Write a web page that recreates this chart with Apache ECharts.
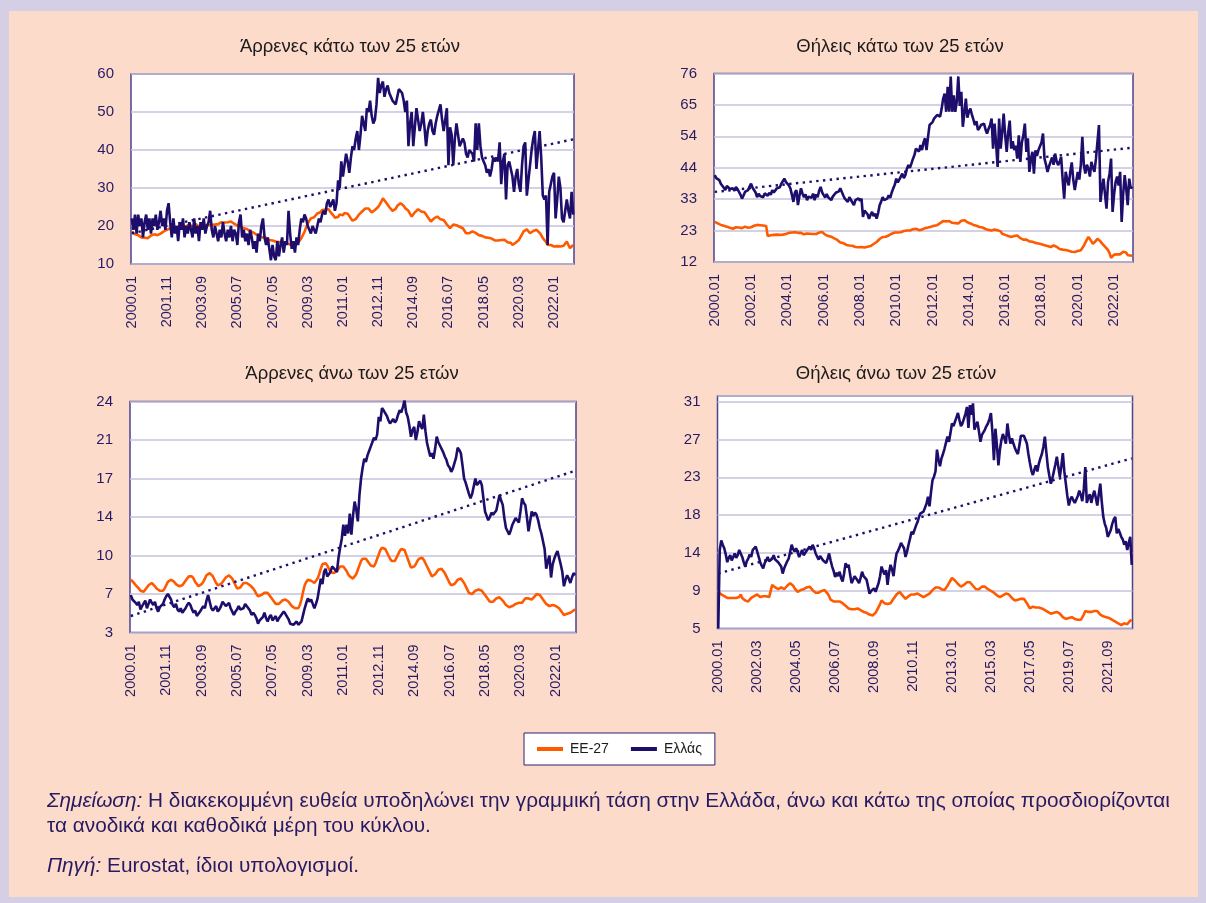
<!DOCTYPE html>
<html><head><meta charset="utf-8">
<script src="https://cdn.jsdelivr.net/npm/echarts@6/dist/echarts.min.js"></script>
<style>
html,body{margin:0;padding:0;background:#D4CFE5;width:1206px;height:903px;overflow:hidden}
#bg{position:absolute;left:9px;top:11px;width:1189px;height:886px;background:#FDDBCB}
#chart{position:absolute;left:0;top:0;width:1206px;height:903px}
</style></head>
<body><div id="bg"></div><div id="chart"></div>
<script>
// ---------- categories ----------
const months = [];
for (let i = 0; i < 277; i++) {
  const y = 2000 + Math.floor(i / 12), m = i % 12 + 1;
  months.push(y + '.' + (m < 10 ? '0' + m : '' + m));
}

// ---------- series values (monthly, 2000.01 - 2023.01) ----------
const grMaleU25 = [
22,19,23,18,23,20,22,17,21,23,19,22,
18,22,20,23,19,21,24,20,22,19,24,26,
21,17,22,18,20,16,21,19,22,17,20,18,
21,19,17,22,18,20,16,21,19,22,18,20,
21,24,19,17,20,18,16,19,17,21,18,16,
19,17,20,16,19,18,15,21,23,17,19,16,
18,15,19,17,14,16,13,18,16,20,22,17,
15,17,14,11,15,12,11,16,12,15,17,13,
16,15,24,18,14,16,13,17,15,19,22,21,
23,22,20,19,18,20,19,18,20,22,21,23,
24,23,26,27,25,26,27,24,26,32,30,37,
33,36,39,37,34,38,41,40,43,45,40,44,
49,47,45,51,50,53,49,47,48,52,59,55,
57,58,54,56,57,55,54,53,53,52,54,56,
56,55,53,50,53,41,47,50,41,46,51,48,
45,47,50,46,41,45,47,48,45,44,47,49,
49,52,48,45,48,51,36,46,44,36,43,47,
44,41,42,43,42,39,38,40,40,39,37,47,
40,47,41,38,37,36,34,35,33,35,38,37,
38,37,42,31,37,39,27,36,37,37,33,29,
33,35,31,29,36,41,42,28,32,36,40,43,
45,35,40,45,38,28,27,28,15,29,31,33,
34,22,27,33,30,22,21,24,27,24,22,29,
23];
const euMaleU25 = [
18.5,18.2,17.8,17.5,17.6,17.2,17.0,17.3,16.9,17.0,16.8,17.2,
17.5,17.3,17.8,18.0,17.6,17.9,18.0,18.4,18.6,18.8,19.0,19.2,
19.4,19.2,19.6,19.8,19.5,19.9,20.2,19.8,20.0,20.3,19.9,20.1,
20.4,20.0,19.8,20.2,20.5,20.1,19.8,20.0,20.3,19.9,20.2,20.5,
20.2,20.6,20.3,20.0,20.4,20.7,20.5,20.8,21.0,20.6,20.9,21.2,
21.0,20.8,21.2,21.0,20.6,20.3,20.1,20.4,19.9,20.0,19.4,19.6,
19.2,19.0,18.6,18.8,18.3,18.0,17.7,17.9,17.2,17.4,17.0,16.8,
16.9,16.5,16.3,16.6,16.2,16.0,15.9,15.6,15.8,15.3,15.5,15.2,
15.4,15.0,15.3,15.1,14.9,15.2,15.0,15.3,15.6,16.0,16.8,17.6,
18.5,19.6,20.6,21.4,22.0,22.5,22.3,22.8,23.3,23.0,23.6,24.2,
24.0,24.3,24.7,24.4,23.8,23.3,22.8,22.2,22.0,22.4,23.0,22.6,
22.8,23.4,23.8,23.2,22.6,22.0,21.4,21.2,21.8,22.4,23.0,23.5,
23.8,24.3,24.6,25.0,24.6,24.2,23.6,23.5,24.2,24.6,25.0,25.6,
26.4,27.3,26.8,26.2,25.6,25.0,24.7,24.0,23.8,24.5,25.3,25.6,
26.0,25.6,25.3,24.7,25.2,24.0,23.2,22.5,23.0,23.6,24.0,24.4,
24.2,23.8,24.3,23.6,23.0,22.4,22.0,21.2,21.6,22.0,22.3,22.5,
22.0,21.8,21.6,21.6,21.0,20.4,20.0,19.4,19.8,20.4,20.7,20.2,
19.9,19.8,20.0,19.4,19.0,18.1,18.3,18.1,18.4,18.6,18.5,18.2,
18.0,17.6,17.2,17.4,17.1,17.0,16.8,16.9,16.8,16.7,16.5,16.2,
15.9,16.2,16.0,16.3,16.1,16.4,15.9,15.7,16.0,15.6,15.0,15.3,
15.6,15.9,16.3,16.8,17.8,18.6,19.0,19.1,18.7,18.1,18.4,18.7,
18.8,19.0,18.6,18.2,17.6,16.8,16.5,15.8,15.0,15.4,15.0,14.8,
14.6,14.5,14.7,14.6,14.6,14.5,14.8,15.2,15.9,15.0,14.2,14.6,
15.0];
const grFemU25 = [
41.5,40.5,40.8,39.8,38.6,38.0,37.2,36.4,37.8,37.5,36.8,37.4,
37.0,36.2,37.5,36.8,35.8,34.9,33.5,34.6,35.8,35.5,36.4,37.6,
38.6,37.2,37.5,35.6,34.0,35.2,34.4,35.0,34.0,35.3,34.8,34.5,
35.5,34.8,36.4,35.6,36.2,37.0,36.6,37.4,38.6,39.4,40.3,39.2,
38.6,38.0,37.0,34.8,32.4,35.6,36.4,31.3,34.6,37.0,35.2,34.0,
35.0,33.0,34.2,34.7,33.8,35.2,33.0,35.0,34.0,36.2,37.5,35.6,
34.7,33.9,35.1,34.0,34.6,33.0,34.2,34.0,35.5,35.2,36.0,37.0,
35.8,34.6,33.5,33.0,32.4,34.0,33.5,32.2,31.3,33.0,32.4,33.6,
32.8,33.5,27.3,29.5,30.1,28.2,26.7,28.0,29.0,27.6,28.4,26.7,
28.6,31.3,32.5,34.0,33.0,32.4,33.5,34.7,33.8,35.6,37.0,38.2,
40.3,39.0,39.2,41.0,42.0,40.5,41.5,43.6,44.9,44.0,45.4,47.0,
48.3,50.5,51.0,49.5,51.7,50.0,52.6,54.0,50.0,54.5,58.5,58.0,
59.5,60.7,60.2,61.9,62.5,61.4,64.0,67.5,69.2,63.0,71.5,63.0,
75.0,63.0,68.6,63.0,66.5,75.0,65.0,69.8,57.9,62.5,67.5,61.0,
63.0,64.1,62.0,60.3,58.5,59.8,56.8,57.5,58.5,58.0,59.0,57.0,
55.6,57.2,58.4,60.7,50.5,59.0,52.0,44.3,60.7,50.5,56.0,62.4,
55.0,49.4,56.0,60.0,50.5,53.0,50.0,51.5,47.1,55.0,46.0,52.5,
55.0,59.0,49.4,54.0,42.6,47.0,49.4,42.0,49.9,48.0,50.0,50.5,
52.6,55.6,47.1,45.0,42.6,44.5,46.0,47.5,45.0,48.8,46.2,44.9,
46.0,47.7,40.0,33.5,42.6,40.0,38.0,42.5,45.8,40.0,36.4,39.5,
42.6,40.0,44.9,54.5,44.9,42.0,45.0,43.7,41.0,46.0,44.0,42.6,
47.0,52.8,58.5,32.4,37.0,40.3,35.0,30.1,39.2,42.0,47.1,29.0,
35.0,39.2,41.0,38.0,42.6,25.6,35.0,41.5,37.0,31.3,40.3,37.0,
37.6];
const euFemU25 = [
25.6,25.3,25.1,24.8,24.6,24.5,24.3,24.2,24.0,23.8,23.6,23.5,
23.3,23.6,23.8,23.5,23.7,23.9,23.5,23.8,24.0,23.8,23.6,23.9,
23.8,24.0,24.3,24.5,24.6,24.4,24.5,24.3,24.4,24.2,24.2,20.8,
20.9,21.1,21.0,21.2,21.0,21.3,21.4,21.2,21.5,21.3,21.6,21.5,
21.7,21.9,21.8,22.0,22.3,22.1,22.2,21.9,21.7,21.9,21.6,21.4,
21.5,21.7,21.4,21.6,21.3,21.5,21.6,21.5,21.9,22.0,22.1,22.2,
21.8,21.3,21.0,20.8,20.5,20.6,20.3,20.0,19.9,19.5,19.0,18.6,
18.2,18.4,18.0,17.8,17.9,17.6,17.4,17.5,17.2,17.1,17.3,17.0,
16.9,17.1,16.8,16.9,17.0,17.2,17.1,17.4,17.8,18.1,18.5,18.8,
19.3,19.8,20.2,20.5,20.7,20.6,20.9,21.0,21.3,21.6,21.9,22.0,
22.2,22.0,22.3,22.1,22.2,22.5,22.4,22.7,22.5,22.7,22.9,23.1,
23.0,23.3,23.0,22.8,22.7,23.0,23.3,23.5,23.4,23.7,23.8,24.0,
24.1,24.3,24.2,24.5,24.8,25.2,25.6,25.9,26.2,25.8,25.6,25.9,
25.6,25.3,25.5,25.2,25.4,25.1,25.6,26.0,26.5,26.2,25.8,25.5,
25.3,25.1,24.8,24.6,24.5,24.3,24.0,23.9,23.6,23.7,23.3,23.2,
23.1,22.9,22.8,22.7,22.9,23.0,23.1,22.8,23.0,22.4,21.6,21.0,
21.2,21.0,20.8,20.7,20.5,20.6,20.8,21.0,21.0,20.6,20.1,19.8,
19.6,19.4,19.6,19.3,19.0,18.8,18.9,18.6,18.5,18.4,18.3,18.2,
18.0,17.9,17.7,17.6,17.4,17.3,17.1,17.3,17.6,17.7,17.2,16.8,
16.4,16.0,16.2,15.9,16.1,16.0,15.8,15.7,15.5,15.6,15.4,15.5,
15.7,15.9,16.0,16.6,17.5,18.6,19.6,20.5,19.8,19.0,18.2,18.5,
19.2,19.9,19.6,19.0,18.3,17.7,17.2,16.8,16.0,15.0,13.4,13.9,
14.5,14.9,14.6,14.5,14.6,14.9,15.5,16.0,15.2,14.3,14.0,14.2,
14.1];
const grMaleO25 = [
6.4,6.0,6.1,5.7,5.5,5.8,5.1,5.4,5.5,5.9,5.2,5.6,
6.0,5.7,5.5,5.8,5.2,4.9,5.3,5.2,5.6,6.0,6.3,6.5,
6.4,6.0,5.5,5.3,5.6,5.1,4.9,5.2,4.8,5.0,5.2,5.5,
5.7,5.5,5.1,4.8,5.0,4.5,4.7,4.9,5.0,5.4,5.2,5.9,
6.4,5.8,5.2,5.0,5.2,5.4,4.9,5.1,5.4,5.8,5.7,5.4,
5.5,5.7,5.2,4.9,4.6,4.9,5.1,5.4,5.1,5.0,5.2,5.6,
5.7,5.2,5.0,4.6,4.8,4.6,4.3,3.8,4.1,4.0,4.4,4.8,
4.3,4.0,4.4,4.6,4.1,4.2,4.5,4.0,4.3,4.5,4.7,4.9,
4.7,4.6,4.2,3.8,3.9,3.7,3.8,4.0,3.7,3.8,4.0,4.6,
5.2,5.7,6.1,5.8,6.0,5.6,5.2,5.6,6.1,7.0,7.9,7.4,
8.5,8.8,8.1,8.3,8.5,9.0,9.1,8.7,8.5,9.8,10.7,11.5,
12.8,11.8,12.8,12.0,13.8,11.9,13.6,14.9,14.2,13.1,15.5,17.0,
18.0,18.8,18.5,19.1,19.5,19.9,20.3,20.7,20.5,21.0,22.6,22.2,
23.4,23.2,23.1,22.7,22.3,22.0,21.9,22.4,22.1,22.3,22.8,23.2,
23.0,23.5,24.1,23.0,22.6,21.8,20.8,21.4,21.7,20.5,21.2,22.2,
21.8,21.5,22.8,21.3,20.2,19.6,19.0,19.3,18.8,19.7,20.8,20.3,
20.0,19.9,19.4,19.0,18.7,18.2,18.0,17.6,17.9,17.8,18.9,19.8,
19.6,19.3,18.2,17.0,16.6,16.1,15.6,15.2,15.6,15.5,17.0,16.4,
16.5,16.8,16.4,15.2,14.0,13.6,13.2,13.5,13.9,13.7,13.9,14.1,
14.8,15.5,15.0,14.6,13.4,12.5,12.2,11.9,12.3,12.8,13.1,13.4,
13.2,13.0,14.0,15.2,14.8,14.6,13.5,12.2,13.1,14.0,13.6,13.9,
13.7,13.2,12.5,12.0,11.9,10.6,8.8,9.5,10.0,8.0,9.2,9.7,
10.1,10.4,9.8,9.2,8.5,7.2,7.8,8.2,7.9,7.5,8.0,8.4,
8.2];
const euMaleO25 = [
7.8,7.7,7.5,7.3,7.2,7.0,6.8,6.7,6.7,6.9,7.1,7.3,
7.4,7.5,7.4,7.2,7.0,6.9,6.8,6.7,6.8,7.0,7.3,7.6,
7.7,7.8,7.8,7.6,7.4,7.3,7.2,7.2,7.3,7.5,7.7,7.9,
8.1,8.2,8.1,7.9,7.6,7.4,7.2,7.2,7.4,7.6,7.9,8.2,
8.3,8.4,8.3,8.1,7.8,7.5,7.3,7.3,7.4,7.6,7.8,8.0,
8.1,8.2,8.1,7.9,7.6,7.3,7.0,7.0,7.1,7.3,7.5,7.6,
7.5,7.4,7.3,7.2,7.0,6.8,6.5,6.3,6.3,6.4,6.5,6.6,
6.6,6.6,6.4,6.2,6.0,5.8,5.6,5.5,5.6,5.7,5.9,6.0,
6.0,5.9,5.8,5.6,5.4,5.3,5.2,5.2,5.2,5.5,6.0,6.7,
7.3,7.6,7.8,7.8,7.7,7.6,7.5,7.6,7.9,8.3,8.8,9.2,
9.3,9.3,9.1,8.8,8.5,8.4,8.4,8.4,8.6,8.8,9.0,9.1,
9.0,8.9,8.6,8.3,8.1,8.0,7.9,8.0,8.3,8.7,9.1,9.5,
9.7,9.8,9.7,9.5,9.3,9.1,9.0,9.0,9.3,9.7,10.1,10.5,
10.7,10.8,10.6,10.3,10.0,9.7,9.5,9.4,9.5,9.8,10.1,10.4,
10.6,10.7,10.5,10.1,9.7,9.3,8.9,8.9,9.0,9.2,9.5,9.7,
9.8,9.8,9.6,9.3,9.0,8.7,8.4,8.1,8.1,8.3,8.5,8.7,
8.8,8.8,8.7,8.4,8.1,7.8,7.5,7.3,7.3,7.4,7.6,7.8,
7.9,7.9,7.8,7.5,7.2,6.9,6.6,6.5,6.5,6.6,6.8,6.9,
6.9,6.9,6.8,6.6,6.4,6.2,6.0,5.8,5.7,5.8,5.9,6.1,
6.2,6.2,6.1,5.9,5.7,5.5,5.4,5.3,5.3,5.4,5.5,5.6,
5.7,5.7,5.6,5.7,5.9,6.1,6.2,6.1,6.0,6.0,6.1,6.3,
6.5,6.6,6.4,6.2,6.0,5.8,5.6,5.5,5.4,5.5,5.5,5.4,
5.4,5.3,5.2,5.0,4.8,4.6,4.6,4.7,4.8,4.8,4.9,5.0,
5.1];
const grFemO25 = [
5.0,14.0,15.1,14.6,14.2,13.5,12.6,13.1,13.4,12.8,13.0,13.6,
13.1,13.4,14.0,13.6,13.2,12.6,12.1,12.7,13.0,13.5,13.2,14.0,
14.1,14.4,13.8,13.2,12.6,12.2,11.9,12.5,12.8,13.2,12.7,12.5,
13.0,13.4,12.9,13.0,12.6,12.4,12.1,11.3,11.9,12.3,12.7,13.0,
13.8,14.6,14.1,13.8,14.2,13.7,13.2,13.6,14.0,13.4,13.6,13.9,
14.1,14.4,14.0,14.6,14.2,13.6,13.8,12.9,13.3,13.1,12.8,13.0,
12.5,13.0,13.6,12.8,12.1,11.6,10.9,11.4,11.0,11.5,10.8,10.4,
11.3,12.5,12.0,12.3,11.2,10.2,10.6,11.0,10.9,10.5,10.2,10.8,
11.5,11.0,10.8,10.6,9.8,9.0,9.3,9.4,9.6,9.2,9.7,10.2,
11.0,12.1,11.6,11.2,11.7,10.0,11.4,12.3,11.8,11.0,12.5,13.6,
13.9,14.3,14.8,14.5,14.2,13.2,13.8,14.6,15.3,16.1,15.8,16.3,
16.8,17.2,17.8,18.2,18.0,18.4,18.6,19.3,20.1,19.0,20.6,22.0,
22.4,23.0,25.5,24.4,23.6,24.5,25.0,25.6,26.3,27.0,26.4,27.4,
28.5,28.2,28.7,29.2,29.7,28.9,28.2,28.5,28.7,29.6,30.4,28.0,
30.6,29.5,30.8,27.8,28.3,28.7,27.6,26.4,27.2,27.0,27.8,28.2,
28.5,29.0,29.7,27.5,24.3,27.9,26.0,23.7,25.5,26.6,27.3,26.8,
26.2,28.5,27.2,26.2,26.8,26.2,25.7,25.3,25.0,26.0,27.1,27.0,
27.1,27.1,26.2,25.0,24.0,23.1,22.6,23.2,23.7,23.0,23.9,24.5,
25.0,25.8,27.0,25.2,23.5,22.5,21.6,22.2,23.0,23.8,24.7,23.5,
22.4,23.6,25.1,23.0,21.6,20.2,19.1,19.8,20.1,19.7,19.4,19.5,
20.2,20.8,20.3,19.6,21.0,23.5,19.4,20.0,20.4,19.4,20.2,20.8,
20.0,19.1,20.4,21.6,19.5,17.8,17.0,16.5,15.5,15.9,16.3,17.0,
17.5,17.8,15.9,16.4,16.0,15.5,15.2,14.6,15.0,14.0,14.8,15.5,
12.3];
const euFemO25 = [
9.2,9.0,8.9,8.8,8.7,8.6,8.5,8.6,8.5,8.4,8.5,8.6,
8.5,8.7,8.6,8.9,8.5,8.3,8.2,8.1,8.1,8.3,8.5,8.6,
8.7,8.8,8.9,8.7,8.6,8.6,8.7,8.6,8.7,8.6,8.6,8.6,
10.0,9.9,9.7,9.6,9.5,9.6,9.7,9.6,9.5,9.7,9.9,10.1,
10.2,10.1,9.9,9.6,9.4,9.2,9.3,9.4,9.4,9.5,9.6,9.7,
9.8,9.8,9.6,9.4,9.2,9.1,9.0,9.1,9.2,9.3,9.3,9.4,
9.2,9.0,8.7,8.3,8.2,8.1,8.2,8.1,8.2,8.1,8.0,7.9,
7.8,7.6,7.4,7.3,7.1,7.2,7.3,7.2,7.3,7.3,7.2,7.1,
7.0,6.9,6.9,6.8,6.7,6.6,6.5,6.5,6.6,6.8,7.1,7.3,
7.8,8.2,8.0,7.9,7.8,7.8,7.8,7.9,8.1,8.4,8.6,8.9,
9.1,9.2,9.0,8.8,8.6,8.4,8.5,8.7,8.9,8.9,8.8,8.9,
9.0,9.0,8.9,8.8,8.7,8.6,8.7,8.8,8.9,9.0,9.2,9.4,
9.6,9.7,9.8,9.7,9.6,9.5,9.4,9.4,9.6,9.9,10.2,10.5,
10.8,10.7,10.5,10.3,10.1,9.9,9.8,9.9,10.0,10.2,10.3,10.4,
10.3,10.1,9.9,9.7,9.5,9.4,9.5,9.6,9.8,9.9,9.8,9.6,
9.5,9.4,9.3,9.2,9.1,9.0,8.8,8.6,8.6,8.7,8.8,8.9,
9.0,9.0,8.9,8.7,8.5,8.3,8.2,8.2,8.3,8.4,8.4,8.4,
8.4,8.2,7.9,7.6,7.3,7.4,7.5,7.4,7.4,7.5,7.4,7.4,
7.3,7.3,7.1,7.0,6.9,6.8,6.7,6.7,6.8,6.8,6.9,6.9,
6.7,6.5,6.3,6.2,6.1,6.2,6.2,6.3,6.3,6.2,6.1,6.1,
6.0,6.0,6.0,6.2,6.6,7.0,7.1,6.9,6.8,6.9,7.0,7.0,
7.1,7.0,6.8,6.6,6.4,6.4,6.3,6.3,6.2,6.2,6.1,6.0,
5.9,5.8,5.7,5.6,5.5,5.4,5.5,5.6,5.6,5.5,5.7,5.9,
6.0];

// linear trend of Greece: [value at first month, value at last month]
const trendMaleU25 = [18.1, 42.8];
const trendFemU25  = [35.8, 50.8];
const trendMaleO25 = [4.5, 17.7];
const trendFemO25  = [11.3, 24.5];

// ---------- tick labels ----------
const yLabelsMaleU25 = ['10','20','30','40','50','60'];
const yLabelsFemU25  = ['12','23','33','44','54','65','76'];
const yLabelsMaleO25 = ['3','7','10','14','17','21','24'];
const yLabelsFemO25  = ['5','9','14','18','23','27','31'];

const titles = ['Άρρενες κάτω των 25 ετών','Θήλεις κάτω των 25 ετών','Άρρενες άνω των 25 ετών','Θήλεις άνω των 25 ετών'];
const seriesNames = ['ΕΕ-27','Ελλάς'];

// ---------- layout / style ----------
const FONT = '"Liberation Sans", Arial, sans-serif';
const NAVY_TEXT = '#261B63';
const GR_COLOR = '#1F0D6B';
const EU_COLOR = '#FF5A00';

const panels = [
  {gr: grMaleU25, eu: euMaleU25, trend: trendMaleU25, yMin:10, yTickMax:60, yMax:60, yLabels: yLabelsMaleU25, xStep:22,
   grid:[131, 74, 443, 190], title:[350, 47]},
  {gr: grFemU25, eu: euFemU25, trend: trendFemU25, yMin:12, yTickMax:76, yMax:76, yLabels: yLabelsFemU25, xStep:24,
   grid:[714, 73.5, 419, 188.5], title:[900, 47]},
  {gr: grMaleO25, eu: euMaleO25, trend: trendMaleO25, yMin:3, yTickMax:24, yMax:24, yLabels: yLabelsMaleO25, xStep:22,
   grid:[130, 401.5, 446, 231], title:[352, 374]},
  {gr: grFemO25, eu: euFemO25, trend: trendFemO25, yMin:5, yTickMax:31, yMax:31.65, yLabels: yLabelsFemO25, xStep:26,
   grid:[717.5, 396, 415, 232.5], title:[896, 374]}
];

const chart = echarts.init(document.getElementById('chart'), null, {renderer:'canvas'});

const series = [];
panels.forEach((p, i) => {
  series.push({
    name: seriesNames[0], type:'line', xAxisIndex:i, yAxisIndex:i, data:p.eu,
    symbol:'none', z:2, lineStyle:{color:EU_COLOR, width:2.6}, itemStyle:{color:EU_COLOR}
  });
  series.push({
    name: 'trend' + i, type:'line', xAxisIndex:i, yAxisIndex:i,
    data:[[0, p.trend[0]], [p.gr.length - 1, p.trend[1]]],
    symbol:'none', z:3, lineStyle:{color:GR_COLOR, width:2.4, type:[2.4, 4.4]}, itemStyle:{color:GR_COLOR}
  });
  series.push({
    name: seriesNames[1], type:'line', xAxisIndex:i, yAxisIndex:i, data:p.gr,
    symbol:'none', z:4, lineStyle:{color:GR_COLOR, width:2.6}, itemStyle:{color:GR_COLOR}
  });
});

const graphic = [];
panels.forEach((p, i) => {
  graphic.push({
    type:'text', x:p.title[0], y:p.title[1], silent:true,
    style:{text:titles[i], fontSize:18.5, fontFamily:FONT, fill:'#1b1b1b',
      textAlign:'center', align:'center', textVerticalAlign:'middle', verticalAlign:'middle'}
  });
});
const NOTE_SIZE = 20.8;
const noteRich = {
  i:{fontStyle:'italic', fontSize:NOTE_SIZE, fontFamily:FONT, fill:NAVY_TEXT},
  n:{fontSize:NOTE_SIZE, fontFamily:FONT, fill:NAVY_TEXT}
};
graphic.push({type:'text', x:47, y:801, silent:true,
  style:{text:'{i|Σημείωση:}{n| Η διακεκομμένη ευθεία υποδηλώνει την γραμμική τάση στην Ελλάδα, άνω και κάτω της οποίας προσδιορίζονται}',
    rich:noteRich, fontSize:NOTE_SIZE, fontFamily:FONT, fill:NAVY_TEXT, textVerticalAlign:'middle', verticalAlign:'middle'}});
graphic.push({type:'text', x:47, y:826, silent:true,
  style:{text:'{n|τα ανοδικά και καθοδικά μέρη του κύκλου.}',
    rich:noteRich, fontSize:NOTE_SIZE, fontFamily:FONT, fill:NAVY_TEXT, textVerticalAlign:'middle', verticalAlign:'middle'}});
graphic.push({type:'text', x:47, y:866, silent:true,
  style:{text:'{i|Πηγή:}{n| Eurostat, ίδιοι υπολογισμοί.}',
    rich:noteRich, fontSize:NOTE_SIZE, fontFamily:FONT, fill:NAVY_TEXT, textVerticalAlign:'middle', verticalAlign:'middle'}});

const option = {
  animation:false,
  textStyle:{fontFamily:FONT},
  grid: panels.map(p => ({left:p.grid[0], top:p.grid[1], width:p.grid[2], height:p.grid[3],
    show:true, backgroundColor:'#ffffff', borderColor:'#4A4391', borderWidth:1.5, containLabel:false})),
  xAxis: panels.map((p, i) => ({
    type:'category', gridIndex:i, data:months, boundaryGap:true,
    axisLine:{show:false}, axisTick:{show:false}, splitLine:{show:false},
    axisLabel:{interval:p.xStep - 1, rotate:90, margin:12, fontSize:14.5, fontFamily:FONT, color:NAVY_TEXT}
  })),
  yAxis: panels.map((p, i) => {
    const step = (p.yTickMax - p.yMin) / (p.yLabels.length - 1);
    return {
      type:'value', gridIndex:i, min:p.yMin, max:p.yMax, interval:step,
      axisLine:{show:false}, axisTick:{show:false},
      splitLine:{show:true, lineStyle:{color:'#C6C2DB', width:1.5}},
      axisLabel:{margin:17, fontSize:15, fontFamily:FONT, color:NAVY_TEXT,
        showMinLabel:true, showMaxLabel:true,
        formatter: v => {
          const k = Math.round((v - p.yMin) / step);
          if (k < 0 || k >= p.yLabels.length) return '';
          return Math.abs(v - (p.yMin + k * step)) < step * 0.02 ? p.yLabels[k] : '';
        }}
    };
  }),
  legend:{
    data:seriesNames, left:524, top:733, orient:'horizontal', icon:'rect',
    backgroundColor:'#ffffff', borderColor:'#2A2070', borderWidth:1, borderRadius:0,
    padding:[9, 13, 9, 13], itemWidth:26, itemHeight:4, itemGap:22,
    textStyle:{fontSize:14, fontFamily:FONT, color:'#1b1b1b', padding:[0,0,0,2]},
    selectedMode:false
  },
  graphic: graphic,
  series: series
};
chart.setOption(option);
</script>
</body></html>
